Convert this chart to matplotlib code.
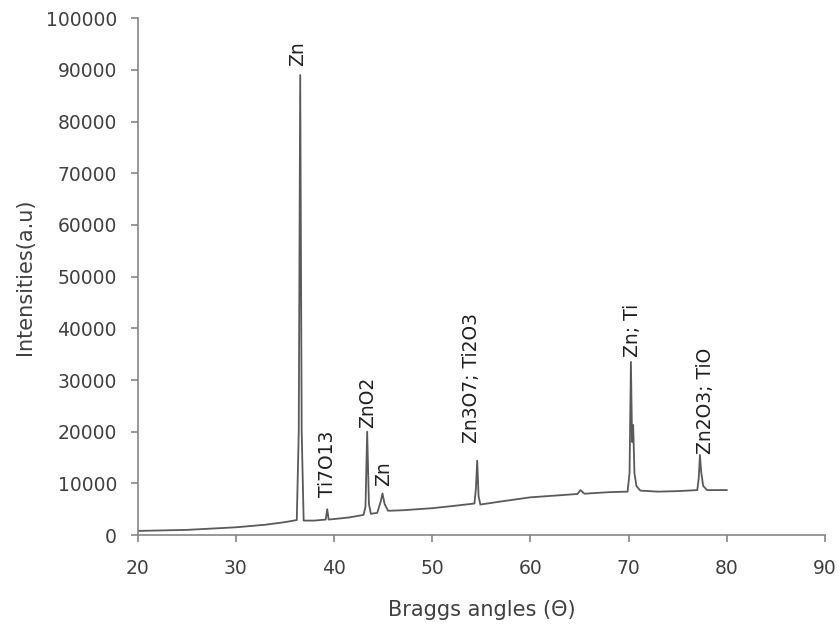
import numpy as np
import matplotlib
matplotlib.use('Agg')
import matplotlib.pyplot as plt

# XRD pattern
two_theta = [20, 25, 30, 33, 35, 36.2, 36.4, 36.55, 36.7, 36.9, 38, 39.15, 39.3, 39.45,
             40, 41.5, 43.0, 43.2, 43.37, 43.55, 43.75, 44.4, 44.75, 44.93, 45.15, 45.5,
             47, 50, 52, 54.3, 54.45, 54.58, 54.72, 54.9, 57, 60, 63, 64.8, 65.1, 65.5,
             68, 69.9, 70.1, 70.24, 70.36, 70.47, 70.6, 70.8, 71.2, 73, 75, 77.0, 77.15,
             77.27, 77.4, 77.6, 78, 80]
intensity = [800, 1000, 1500, 2000, 2500, 2900, 20000, 89000, 20000, 2800, 2800, 3000, 5000, 3000,
             3100, 3400, 3900, 5500, 20000, 6000, 4100, 4300, 6500, 8050, 6000, 4700,
             4800, 5200, 5600, 6100, 9000, 14400, 7500, 5900, 6500, 7300, 7700, 7950, 8700, 8000,
             8300, 8400, 12000, 33500, 18000, 21300, 12000, 9500, 8600, 8400, 8500, 8700, 11000,
             15500, 12200, 9500, 8700, 8700]

# peak labels (text, x, y of label bottom)
peak_names = ['Zn', 'Ti7O13', 'ZnO2', 'Zn', 'Zn3O7; Ti2O3', 'Zn; Ti', 'Zn2O3; TiO']
peak_x = [36.3, 39.35, 43.4, 45.0, 54.0, 70.4, 77.8]
peak_y = [90700, 7300, 20800, 9400, 17900, 34500, 15600]

txt = '#404040'
axc = '#868686'

fig = plt.figure(figsize=(8.4, 6.28), dpi=100)
ax = fig.add_axes([0.164, 0.148, 0.818, 0.823])
ax.plot(two_theta, intensity, color='#5a5a5a', lw=1.3)

for name, px, py in zip(peak_names, peak_x, peak_y):
    ax.text(px, py, name, rotation=90, ha='center', va='bottom',
            fontsize=13.5, color='#202020')

ax.set_xlim(20, 90)
ax.set_ylim(0, 100000)
ax.set_xticks(np.arange(20, 91, 10))
ax.set_yticks(np.arange(0, 100001, 10000))
for s in ['top', 'right']:
    ax.spines[s].set_visible(False)
for s in ['left', 'bottom']:
    ax.spines[s].set_color(axc)
    ax.spines[s].set_linewidth(1.2)
ax.tick_params(direction='out', length=5, width=1.2, color=axc,
               labelsize=13.5, labelcolor=txt)
ax.tick_params(axis='x', pad=12)
ax.tick_params(axis='y', pad=10)
ax.set_xlabel('Braggs angles (\u0398)', fontsize=15, color=txt, labelpad=16)
ax.set_ylabel('Intensities(a.u)', fontsize=15, color=txt, labelpad=8)

fig.savefig('out.png', dpi=100)
